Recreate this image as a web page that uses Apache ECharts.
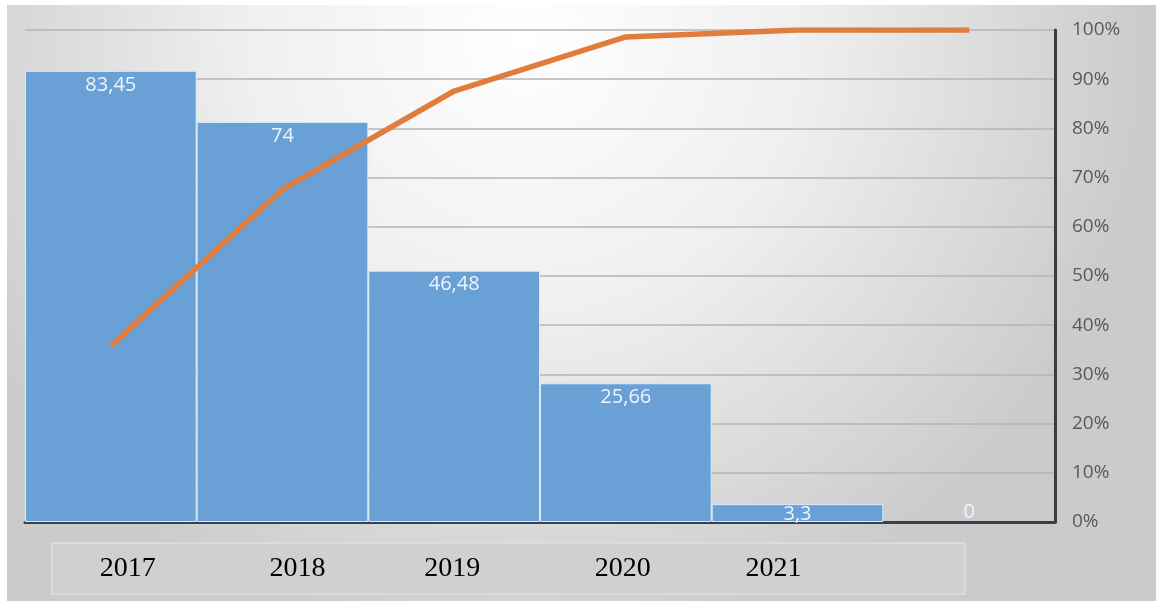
<!DOCTYPE html>
<html>
<head>
<meta charset="utf-8">
<script src="https://cdn.jsdelivr.net/npm/echarts@6/dist/echarts.min.js"></script>
<style>
  html, body { margin: 0; padding: 0; background: #ffffff; }
  #chart { width: 1156px; height: 601px; }
</style>
</head>
<body>
<div id="chart"></div>
<script>
// Pareto chart: yearly values (bars) + cumulative share (line)
const years = ['2017', '2018', '2019', '2020', '2021', ''];
const values = [83.45, 74, 46.48, 25.66, 3.3, 0];
const cumulativePct = [35.8, 67.6, 87.6, 98.6, 100, 100];
const pctTicks = [0, 10, 20, 30, 40, 50, 60, 70, 80, 90, 100];

// horizontal nudge of each year label (px), labels in the source are not centred
const labelShift = [17, 15, -2, -3, -24, 0];

const chart = echarts.init(document.getElementById('chart'));

const barData = values.map(v => {
    if (v === 0) {
        return { value: v, itemStyle: { borderWidth: 0 }, label: { position: 'insideBottom', distance: 0 } };
    }
    if (v < 5) {
        return { value: v, label: { position: 'insideBottom', distance: -2 } };
    }
    return v;
});

const yearRich = {};
labelShift.forEach((s, i) => {
    yearRich['y' + i] = {
        fontFamily: 'Liberation Serif',
        fontSize: 28,
        color: '#000000',
        padding: s >= 0 ? [0, 0, 0, 2 * s] : [0, -2 * s, 0, 0]
    };
});

const option = {
    backgroundColor: '#ffffff',
    animation: false,
    graphic: [
        {
            type: 'rect',
            z: -10,
            shape: { x: 7, y: 5, width: 1149, height: 596 },
            style: {
                fill: {
                    type: 'radial', x: 0.45, y: 0.05, r: 1.05,
                    colorStops: [
                        { offset: 0, color: '#ffffff' },
                        { offset: 0.45, color: '#efefef' },
                        { offset: 1, color: '#cbcbcb' }
                    ]
                }
            }
        },
        {
            type: 'rect',
            z: -5,
            shape: { x: 52, y: 543, width: 913, height: 51 },
            style: { fill: '#d0d0d0', stroke: '#dedede', lineWidth: 1.5 }
        }
    ],
    grid: { left: 25, right: 101, top: 30, bottom: 79 },
    xAxis: {
        type: 'category',
        data: years,
        axisLine: { show: true, lineStyle: { color: '#38414d', width: 3 } },
        axisTick: { show: false },
        axisLabel: {
            margin: 33,
            formatter: (v, i) => v ? '{y' + i + '|' + v + '}' : '',
            rich: yearRich
        },
        splitLine: { show: false }
    },
    yAxis: [
        {
            type: 'value',
            min: 0,
            max: 91,
            show: false,
            splitLine: { show: false }
        },
        {
            type: 'value',
            position: 'right',
            min: 0,
            max: 100,
            interval: 10,
            axisLine: { show: true, lineStyle: { color: '#3c3c3c', width: 3 } },
            axisTick: { show: false },
            axisLabel: {
                margin: 17,
                color: '#595959',
                fontFamily: 'Open Sans',
                fontSize: 19,
                formatter: v => pctTicks.includes(v) ? v + '%' : ''
            },
            splitLine: { show: true, lineStyle: { color: '#b4b4b4', width: 1.5 } }
        }
    ],
    series: [
        {
            name: 'Values',
            type: 'bar',
            yAxisIndex: 0,
            data: barData,
            barCategoryGap: 0,
            itemStyle: {
                color: '#69a0d5',
                borderColor: '#d8ebf9',
                borderWidth: 1
            },
            label: {
                show: true,
                position: 'insideTop',
                distance: 4,
                color: '#eef5fc',
                fontFamily: 'Open Sans',
                fontSize: 20,
                formatter: p => String(p.value).replace('.', ',')
            }
        },
        {
            name: 'Cumulative',
            type: 'line',
            yAxisIndex: 1,
            data: cumulativePct,
            symbol: 'none',
            z: 5,
            lineStyle: { color: '#e07c3c', width: 5.5 }
        }
    ]
};

chart.setOption(option);
</script>
</body>
</html>
